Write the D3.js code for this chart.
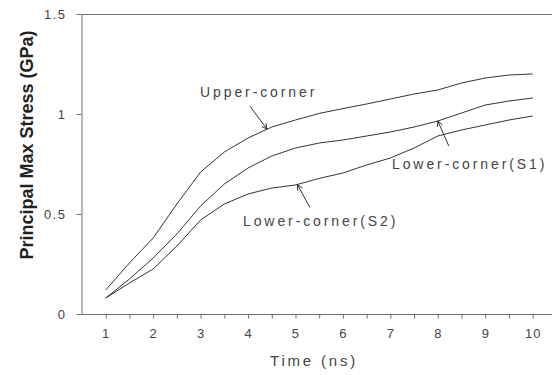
<!DOCTYPE html>
<html>
<head>
<meta charset="utf-8">
<script src="https://cdn.jsdelivr.net/npm/d3@7"></script>
<style>
  html, body { margin: 0; padding: 0; background: #fff; }
  svg { display: block; }
  text { font-family: Arial, "Liberation Sans", sans-serif; }
</style>
</head>
<body>
<svg id="chart" width="552" height="375"></svg>
<script>
// ---- data ----
const times = [1, 1.5, 2, 2.5, 3, 3.5, 4, 4.5, 5, 5.5, 6, 6.5, 7, 7.5, 8, 8.5, 9, 9.5, 10];
const upperCorner = [0.12, 0.255, 0.38, 0.55, 0.71, 0.81, 0.88, 0.935, 0.97, 1.003, 1.027, 1.05, 1.075, 1.10, 1.12, 1.155, 1.18, 1.195, 1.20];
const lowerCornerS1 = [0.08, 0.175, 0.28, 0.40, 0.54, 0.65, 0.73, 0.79, 0.83, 0.855, 0.87, 0.89, 0.91, 0.935, 0.965, 1.005, 1.045, 1.065, 1.08];
const lowerCornerS2 = [0.08, 0.155, 0.225, 0.34, 0.47, 0.55, 0.60, 0.63, 0.645, 0.678, 0.705, 0.745, 0.78, 0.83, 0.89, 0.92, 0.945, 0.97, 0.99];
const xTickValues = [1, 1.5, 2, 2.5, 3, 3.5, 4, 4.5, 5, 5.5, 6, 6.5, 7, 7.5, 8, 8.5, 9, 9.5, 10];
const xTickLabels = ["1", "2", "3", "4", "5", "6", "7", "8", "9", "10"];
const yTickValues = [0, 0.5, 1, 1.5];
const yTickLabels = ["0", "0.5", "1", "1.5"];
const seriesNames = ["Upper-corner", "Lower-corner(S1)", "Lower-corner(S2)"];
const xTitle = "Time (ns)";
const yTitle = "Principal Max Stress (GPa)";

// ---- layout ----
const svg = d3.select("#chart");
const axisColor = "#6e6e6e";
const textColor = "#444";
const x = d3.scaleLinear().domain([0.5, 10.4]).range([82, 82 + 9.9 * 47.44]);
const y = d3.scaleLinear().domain([0, 1.5]).range([314, 14]);

// top border
svg.append("line")
  .attr("x1", x(0.5)).attr("x2", 552)
  .attr("y1", y(1.5) + 0.5).attr("y2", y(1.5) + 0.5)
  .attr("stroke", axisColor).attr("stroke-width", 1);

// x axis
const xAxis = d3.axisBottom(x)
  .tickValues(xTickValues)
  .tickSize(4)
  .tickSizeOuter(0)
  .tickFormat(d => Number.isInteger(d) ? xTickLabels[d - 1] : "");
const gx = svg.append("g").attr("transform", `translate(0,${y(0) + 0.5})`).call(xAxis);
gx.select(".domain").attr("stroke", axisColor).attr("d", `M${x(0.5)},0H552`);
gx.selectAll(".tick line").attr("stroke", axisColor);
gx.selectAll(".tick text")
  .attr("fill", textColor).attr("font-size", 13).attr("letter-spacing", "1px")
  .attr("y", 14).attr("dy", "0.71em")
  .attr("font-family", "Arial, 'Liberation Sans', sans-serif");

// y axis
const yAxis = d3.axisLeft(y)
  .tickValues(yTickValues)
  .tickSize(5)
  .tickSizeOuter(0)
  .tickFormat((d, i) => yTickLabels[i]);
const gy = svg.append("g").attr("transform", `translate(${x(0.5) - 0.5},0)`).call(yAxis);
gy.select(".domain").attr("stroke", axisColor);
gy.selectAll(".tick line").attr("stroke", axisColor);
gy.selectAll(".tick text")
  .attr("fill", textColor).attr("font-size", 13).attr("letter-spacing", "1.5px")
  .attr("x", -15)
  .attr("font-family", "Arial, 'Liberation Sans', sans-serif");

// titles
svg.append("text")
  .attr("x", 314).attr("y", 366)
  .attr("text-anchor", "middle")
  .attr("font-size", 15).attr("letter-spacing", "2.8px")
  .attr("fill", textColor)
  .text(xTitle);

svg.append("text")
  .attr("transform", "translate(33,145) rotate(-90)")
  .attr("text-anchor", "middle")
  .attr("font-size", 18).attr("font-weight", "bold")
  .attr("fill", "#222")
  .text(yTitle);

// lines
const line = d3.line().x(d => x(d[0])).y(d => y(d[1]));
[upperCorner, lowerCornerS1, lowerCornerS2].forEach(vals => {
  svg.append("path")
    .datum(times.map((t, i) => [t, vals[i]]))
    .attr("fill", "none")
    .attr("stroke", "#333")
    .attr("stroke-width", 1)
    .attr("d", line);
});

// annotations: arrow tip at (time, series value), tail offset in px, label anchor
function valueAt(vals, t) {
  return d3.scaleLinear().domain(times).range(vals)(t);
}
const annotations = [
  { name: seriesNames[0], vals: upperCorner, t: 4.4, dx: -17, dy: -23, lx: 200, ly: 97 },
  { name: seriesNames[1], vals: lowerCornerS1, t: 8.0, dx: 11, dy: 25, lx: 392, ly: 169 },
  { name: seriesNames[2], vals: lowerCornerS2, t: 5.04, dx: 12.5, dy: 23, lx: 243, ly: 226 }
];
annotations.forEach(a => {
  const tx = x(a.t), ty = y(valueAt(a.vals, a.t));
  const sx = tx + a.dx, sy = ty + a.dy;
  svg.append("line")
    .attr("x1", sx).attr("y1", sy).attr("x2", tx).attr("y2", ty)
    .attr("stroke", "#333").attr("stroke-width", 1);
  const ang = Math.atan2(ty - sy, tx - sx);
  const len = 6, spread = 0.45;
  [ang + Math.PI - spread, ang + Math.PI + spread].forEach(b => {
    svg.append("line")
      .attr("x1", tx).attr("y1", ty)
      .attr("x2", tx + len * Math.cos(b)).attr("y2", ty + len * Math.sin(b))
      .attr("stroke", "#333").attr("stroke-width", 1);
  });
  svg.append("text")
    .attr("x", a.lx).attr("y", a.ly)
    .attr("font-size", 14).attr("letter-spacing", "2.9px")
    .attr("fill", textColor)
    .text(a.name);
});
</script>
</body>
</html>
